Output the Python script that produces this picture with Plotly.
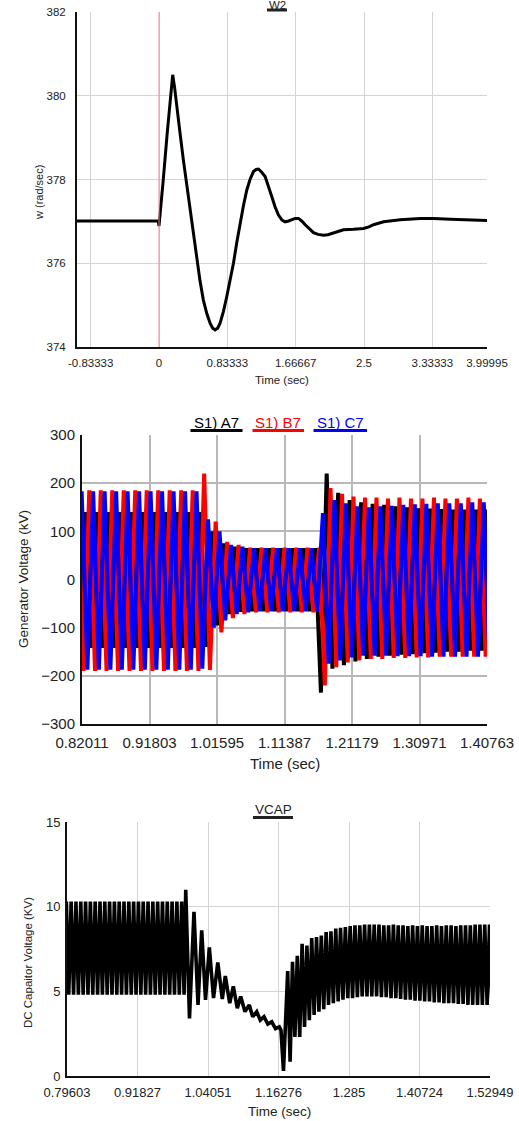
import plotly.graph_objects as go

W, H = 519, 1121
FONT = "Liberation Sans, Arial, sans-serif"

# ---------------- Plot 1: W2 ----------------
w2_t = [-1.0, -0.5, -0.01, 0.0, 0.012, 0.05, 0.10, 0.14, 0.167, 0.19, 0.216, 0.257, 0.297, 0.338,
        0.379, 0.42, 0.460, 0.50, 0.541, 0.583, 0.623, 0.655, 0.684, 0.715, 0.745, 0.786, 0.826,
        0.867, 0.908, 0.949, 0.989, 1.03, 1.071, 1.11, 1.152, 1.185, 1.213, 1.25, 1.294, 1.335,
        1.376, 1.415, 1.457, 1.50, 1.538, 1.58, 1.620, 1.66, 1.701, 1.74, 1.783, 1.83, 1.884,
        1.94, 2.006, 2.06, 2.128, 2.19, 2.25, 2.372, 2.494, 2.56, 2.616, 2.739, 2.943, 3.187,
        3.35, 3.553, 3.757, 4.0]
w2_v = [377.01, 377.01, 377.01, 376.89, 377.2, 377.95, 379.1, 379.95, 380.50, 380.2, 379.74, 379.1,
        378.47, 377.87, 377.27, 376.65, 376.08, 375.58, 375.12, 374.8, 374.57, 374.45, 374.41,
        374.45, 374.57, 374.85, 375.2, 375.6, 376.0, 376.5, 376.96, 377.38, 377.75, 378.0, 378.19,
        378.24, 378.25, 378.18, 378.07, 377.85, 377.59, 377.35, 377.15, 377.03, 376.99, 377.01,
        377.04, 377.07, 377.07, 377.01, 376.92, 376.82, 376.73, 376.69, 376.67, 376.68, 376.72,
        376.77, 376.80, 376.81, 376.83, 376.87, 376.92, 376.99, 377.04, 377.07, 377.07, 377.05,
        377.04, 377.02]
w2_xticks = [-0.83333, 0, 0.83333, 1.66667, 2.5, 3.33333, 3.99995]
w2_xticktext = ["-0.83333", "0", "0.83333", "1.66667", "2.5", "3.33333", "3.99995"]
w2_yticks = [374, 376, 378, 380, 382]

# ---------------- Plot 2: generator voltages (peak per 60 Hz cycle) ----------------
GEN_HZ = 60.0
gen_a_t0 = 0.8084   # time of first positive peak, phase A
gen_b_t0 = 0.8140
gen_c_t0 = 0.8196
gen_a_max = [140]*11 + [140, 100, 75, 68] + [65]*6 + [65, 220, 180, 165, 160,
             157, 155, 152, 150, 148, 147, 146, 145, 145, 145, 145]
gen_a_min = [-142]*11 + [-140, -95, -72, -67] + [-66]*6 + [-235, -185, -178, -170, -165,
             -160, -158, -156, -155, -153, -152, -150, -150, -148, -148, -148]
gen_b_max = [185]*11 + [220, 120, 78, 72] + [66]*7 + [190, 178, 172,
             170, 170, 168, 170, 168, 168, 170, 168, 168, 170, 168, 168]
gen_b_min = [-190]*11 + [-188, -110, -80, -72] + [-68]*6 + [-220, -182, -172, -168,
             -165, -165, -163, -163, -162, -162, -160, -160, -160, -160, -160, -160]
gen_c_max = [183]*10 + [183, 125, 100, 72, 68] + [65]*6 + [138, 165, 158, 152,
             150, 152, 153, 155, 156, 157, 158, 158, 158, 160, 160, 160]
gen_c_min = [-187]*10 + [-185, -100, -85, -72, -68] + [-66]*6 + [-175, -168, -162, -158,
             -158, -158, -159, -159, -159, -160, -160, -160, -160, -160, -160, -160]
gen_xticks = [0.82011, 0.91803, 1.01595, 1.11387, 1.21179, 1.30971, 1.40763]
gen_xticktext = ["0.82011", "0.91803", "1.01595", "1.11387", "1.21179", "1.30971", "1.40763"]
gen_yticks = [-300, -200, -100, 0, 100, 200, 300]

# ---------------- Plot 3: VCAP ----------------
VCAP_HZ = 120.0
vcap_pre_t0 = 0.7949
vcap_pre_max = [10.3]*25
vcap_pre_min = [4.8]*25
vcap_fault_t = [1.0019, 1.0084, 1.0162, 1.0232, 1.0296, 1.0362, 1.0428, 1.0501, 1.0575, 1.0653,
                1.0705, 1.0782, 1.0844, 1.0913, 1.0972, 1.1047, 1.1121, 1.1180, 1.1250, 1.1312,
                1.1376, 1.1442, 1.1510, 1.1576, 1.1641, 1.1671, 1.1714]
vcap_fault_v = [11.0, 3.4, 9.7, 4.2, 8.6, 4.5, 7.6, 4.6, 6.7, 4.55, 5.9, 4.3, 5.3, 4.0, 4.7, 3.8,
                4.2, 3.5, 3.8, 3.3, 3.5, 3.07, 3.2, 2.8, 2.9, 2.7, 0.3]
vcap_post_t0 = 1.1787
vcap_post_max = [6.2, 6.75, 7.1, 7.8, 7.7, 8.15, 8.2, 8.3, 8.5, 8.55, 8.7, 8.75, 8.8, 8.85, 8.9,
                 8.9, 8.95, 8.95, 8.95, 8.95, 8.9, 8.9, 8.95, 8.9, 8.9, 8.85, 8.9, 8.85, 8.9, 8.85,
                 8.85, 8.9, 8.85, 8.9, 8.9, 8.85, 8.9, 8.9, 8.9, 8.95, 8.95, 8.95, 8.95]
vcap_post_min = [0.85, 2.3, 2.3, 2.9, 3.3, 3.6, 3.8, 3.95, 4.2, 4.3, 4.4, 4.5, 4.6, 4.6, 4.65,
                 4.7, 4.7, 4.7, 4.7, 4.65, 4.65, 4.6, 4.6, 4.55, 4.5, 4.5, 4.45, 4.45, 4.4, 4.4,
                 4.35, 4.35, 4.3, 4.3, 4.3, 4.25, 4.25, 4.2, 4.2, 4.2, 4.2, 4.2, 4.2]
vcap_xticks = [0.79603, 0.91827, 1.04051, 1.16276, 1.285, 1.40724, 1.52949]
vcap_xticktext = ["0.79603", "0.91827", "1.04051", "1.16276", "1.285", "1.40724", "1.52949"]
vcap_yticks = [0, 5, 10, 15]


def peaks_to_wave(t0, hz, maxima, minima):
    """Join successive read positive/negative peaks, one per half cycle."""
    period = 1.0 / hz
    xs, ys = [], []
    for i, (hi, lo) in enumerate(zip(maxima, minima)):
        xs += [t0 + i * period, t0 + i * period + period / 2]
        ys += [hi, lo]
    return xs, ys


def px_x(px):
    return px / W


def px_y(py):
    return 1 - py / H


fig = go.Figure()

fig.add_trace(go.Scatter(x=w2_t, y=w2_v, mode="lines", line=dict(color="black", width=3),
                         xaxis="x", yaxis="y", showlegend=False))

for (t0, mx, mn, col) in [(gen_a_t0, gen_a_max, gen_a_min, "black"),
                          (gen_b_t0, gen_b_max, gen_b_min, "#ff0000"),
                          (gen_c_t0, gen_c_max, gen_c_min, "#0000ff")]:
    xs, ys = peaks_to_wave(t0, GEN_HZ, mx, mn)
    fig.add_trace(go.Scatter(x=xs, y=ys, mode="lines", line=dict(color=col, width=4),
                             xaxis="x2", yaxis="y2", showlegend=False))

pre_x, pre_y = peaks_to_wave(vcap_pre_t0, VCAP_HZ, vcap_pre_max, vcap_pre_min)
post_x, post_y = peaks_to_wave(vcap_post_t0, VCAP_HZ, vcap_post_max, vcap_post_min)
fig.add_trace(go.Scatter(x=pre_x + vcap_fault_t + post_x, y=pre_y + vcap_fault_v + post_y,
                         mode="lines", line=dict(color="black", width=3.6),
                         xaxis="x3", yaxis="y3", showlegend=False))

P1 = dict(l=77, r=487, t=12, b=347)
P2 = dict(l=82, r=487, t=435, b=724)
P3 = dict(l=67, r=490, t=822, b=1076)


def xax(box, rng, tv, tt, fs, tlen, anchor, grid="#d4d4d4", gw=1):
    return dict(domain=[px_x(box["l"]), px_x(box["r"])], range=rng, anchor=anchor,
                tickvals=tv, ticktext=tt, tickfont=dict(family=FONT, size=fs, color="#222"),
                showgrid=True, gridcolor=grid, gridwidth=gw, zeroline=False, automargin=False,
                showline=True, linecolor="#111", linewidth=2, ticks="outside", ticklen=tlen,
                tickcolor="rgba(0,0,0,0)", fixedrange=True)


def yax(box, rng, tv, fs, tlen, anchor, grid="#d4d4d4", gw=1):
    return dict(domain=[px_y(box["b"]), px_y(box["t"])], range=rng, anchor=anchor,
                tickvals=tv, tickfont=dict(family=FONT, size=fs, color="#222"),
                showgrid=True, gridcolor=grid, gridwidth=gw, zeroline=False, automargin=False,
                showline=True, linecolor="#111", linewidth=2, ticks="outside", ticklen=tlen,
                tickcolor="rgba(0,0,0,0)", fixedrange=True)


fig.update_layout(
    width=W, height=H, autosize=False, margin=dict(l=0, r=0, t=0, b=0, pad=0, autoexpand=False),
    paper_bgcolor="white", plot_bgcolor="white", showlegend=False,
    xaxis=xax(P1, [-1.0, 4.0], w2_xticks, w2_xticktext, 11.5, 4, "y"),
    yaxis=yax(P1, [374, 382], w2_yticks, 11.5, 7, "x"),
    xaxis2=xax(P2, [0.82011, 1.40763], gen_xticks, gen_xticktext, 15, 4, "y2", "#b8b8b8", 1.5),
    yaxis2=yax(P2, [-300, 300], gen_yticks, 15, 2, "x2", "#b8b8b8", 1.5),
    xaxis3=xax(P3, [0.79603, 1.52949], vcap_xticks, vcap_xticktext, 13, 3, "y3"),
    yaxis3=yax(P3, [0, 15], vcap_yticks, 13, 2, "x3"),
)

shapes = []
annotations = []

shapes.append(dict(type="line", xref="x", yref="y", x0=0, x1=0, y0=374, y1=382,
                   line=dict(color="#f08a8a", width=1)))


def title(text, cx, cy, fs, color, x0, x1, uy):
    annotations.append(dict(text=text, x=px_x(cx), y=px_y(cy), xref="paper", yref="paper",
                            xanchor="center", yanchor="middle", showarrow=False,
                            font=dict(family=FONT, size=fs, color=color)))
    shapes.append(dict(type="line", xref="paper", yref="paper", x0=px_x(x0), x1=px_x(x1),
                       y0=px_y(uy), y1=px_y(uy), line=dict(color=color, width=3)))


title("W2", 277, 5, 11.5, "#222", 267, 287, 10)
title("S1) A7", 216.5, 422, 15, "black", 190.5, 242.5, 430.5)
title("S1) B7", 278, 422, 15, "#ff0000", 252.5, 304, 430.5)
title("S1) C7", 340, 422, 15, "#0000ff", 313.5, 367, 430.5)
title("VCAP", 273, 809.5, 13.5, "#222", 253, 293, 817.5)


def label(text, cx, cy, fs, angle=0):
    annotations.append(dict(text=text, x=px_x(cx), y=px_y(cy), xref="paper", yref="paper",
                            xanchor="center", yanchor="middle", showarrow=False, textangle=angle,
                            font=dict(family=FONT, size=fs, color="#222")))


label("Time (sec)", 282, 380, 11.5)
label("w (rad/sec)", 39, 193, 11, -90)
label("Time (sec)", 285, 763, 15)
label("Generator Voltage (kV)", 23, 579, 13.5, -90)
label("Time (sec)", 279, 1111, 13.5)
label("DC Capaitor Voltage (KV)", 28, 963, 11.5, -90)

fig.update_layout(shapes=shapes, annotations=annotations)
fig.write_html("out.html")
